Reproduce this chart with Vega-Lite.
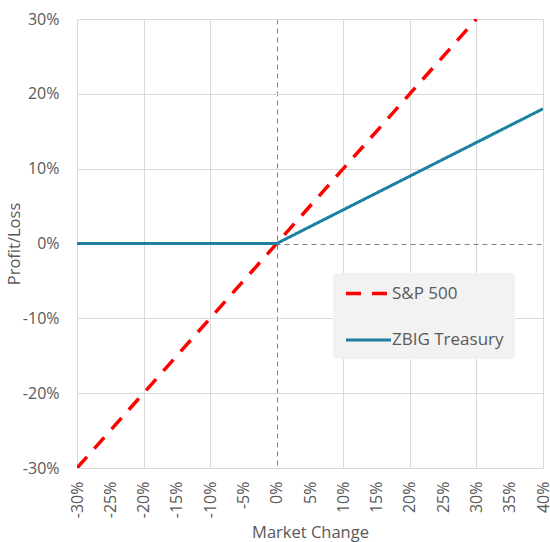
{
  "$schema": "https://vega.github.io/schema/vega-lite/v6.json",
  "width": 466,
  "height": 449,
  "autosize": {"type": "none"},
  "padding": {"left": 77, "top": 19, "right": 7, "bottom": 74},
  "background": "white",
  "config": {
    "font": "Open Sans",
    "view": {"stroke": null},
    "axis": {
      "labelFont": "Open Sans",
      "titleFont": "Open Sans",
      "labelColor": "#595959",
      "titleColor": "#595959",
      "labelFontSize": 16,
      "titleFontSize": 16.5,
      "titleFontWeight": "normal",
      "ticks": false,
      "domain": false,
      "gridColor": "#d9d9d9",
      "gridWidth": 1
    },
    "legend": {
      "labelFont": "Open Sans",
      "labelFontSize": 17,
      "labelColor": "#595959"
    }
  },
  "data": {
    "values": [
      {"series": "S&P 500", "x": -0.3, "y": -0.3},
      {"series": "S&P 500", "x": 0.3, "y": 0.3},
      {"series": "ZBIG Treasury", "x": -0.3, "y": 0},
      {"series": "ZBIG Treasury", "x": 0, "y": 0},
      {"series": "ZBIG Treasury", "x": 0.4, "y": 0.18}
    ]
  },
  "mark": {"type": "line", "clip": true},
  "encoding": {
    "x": {
      "field": "x",
      "type": "quantitative",
      "scale": {"domain": [-0.3, 0.4], "nice": false, "zero": false},
      "axis": {
        "values": [-0.3, -0.25, -0.2, -0.15, -0.1, -0.05, 0, 0.05, 0.1, 0.15, 0.2, 0.25, 0.3, 0.35, 0.4],
        "labelExpr": "replace(format(datum.value, '.0%'), '\u2212', '-')",
        "labelAngle": 270,
        "labelAlign": "right",
        "labelBaseline": "middle",
        "labelPadding": 13,
        "title": "Market Change",
        "titlePadding": 7,
        "gridOpacity": {"condition": {"test": "round(datum.value*100) % 10 !== 0", "value": 0}, "value": 1},
        "gridDash": {"condition": {"test": "abs(datum.value) < 0.000001", "value": [5, 4]}, "value": []},
        "gridColor": {"condition": {"test": "abs(datum.value) < 0.000001", "value": "#808080"}, "value": "#d9d9d9"}
      }
    },
    "y": {
      "field": "y",
      "type": "quantitative",
      "scale": {"domain": [-0.3, 0.3], "nice": false, "zero": false},
      "axis": {
        "values": [-0.3, -0.2, -0.1, 0, 0.1, 0.2, 0.3],
        "labelExpr": "replace(format(datum.value, '.0%'), '\u2212', '-')",
        "labelPadding": 18,
        "title": "Profit/Loss",
        "titlePadding": 0,
        "gridDash": {"condition": {"test": "abs(datum.value) < 0.000001", "value": [5, 4]}, "value": []},
        "gridColor": {"condition": {"test": "abs(datum.value) < 0.000001", "value": "#808080"}, "value": "#d9d9d9"}
      }
    },
    "color": {
      "field": "series",
      "type": "nominal",
      "scale": {"domain": ["S&P 500", "ZBIG Treasury"], "range": ["#ff0000", "#1c80a3"]},
      "legend": {
        "title": null,
        "orient": "none",
        "legendX": 256,
        "legendY": 254,
        "fillColor": "#f2f2f2",
        "padding": 11,
        "symbolType": "M-1,0H5",
        "symbolSize": 225,
        "symbolStrokeWidth": 3.5,
        "labelOffset": 29,
        "rowPadding": 29
      }
    },
    "strokeDash": {
      "field": "series",
      "type": "nominal",
      "scale": {"domain": ["S&P 500", "ZBIG Treasury"], "range": [[15, 11], [1, 0]]},
      "legend": null
    },
    "strokeWidth": {
      "field": "series",
      "type": "nominal",
      "scale": {"domain": ["S&P 500", "ZBIG Treasury"], "range": [3.5, 3]},
      "legend": null
    }
  }
}
